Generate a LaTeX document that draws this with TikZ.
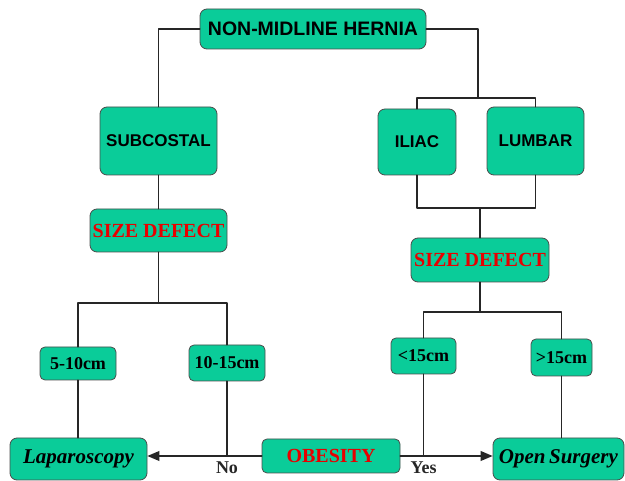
\documentclass[tikz,border=0pt]{standalone}
\usepackage{fontspec}
\setmainfont{Liberation Serif}
\newfontfamily\boxsans{Liberation Sans}
\usetikzlibrary{arrows}
\usetikzlibrary{positioning}
\definecolor{boxgreen}{RGB}{10,204,153}
\definecolor{boxred}{RGB}{232,0,0}

\begin{document}
\begin{tikzpicture}[line cap=round,line join=round,>=triangle 45,x=1pt,y=-1pt,
  box/.style={draw=black!70,line width=0.8pt,fill=boxgreen,rounded corners=7pt,inner sep=0pt,align=center},
  sanslbl/.style={font=\fontsize{17}{18}\selectfont\boxsans\bfseries},
  sizelbl/.style={font=\fontsize{20}{22}\selectfont\bfseries,text=boxred},
  cmlbl/.style={font=\fontsize{18}{20}\selectfont\bfseries},
  endlbl/.style={font=\fontsize{21}{23}\selectfont\bfseries\itshape},
  answer/.style={below=1pt,font=\fontsize{18}{19}\selectfont\bfseries},
  conn/.style={line width=1.8pt,black!85}]
\useasboundingbox (0,0) rectangle (625,481);
\node[box,minimum width=226,minimum height=40,font=\fontsize{19.5}{21}\selectfont\boxsans\bfseries] (hernia) at (313,29) {NON-MIDLINE HERNIA};
\node[box,sanslbl,minimum width=117,minimum height=68] (subcostal) at (158.5,141) {SUBCOSTAL};
\node[box,sanslbl,minimum width=78,minimum height=66] (iliac) at (417,142) {ILIAC};
\node[box,sanslbl,minimum width=97,minimum height=68] (lumbar) at (535.5,141) {LUMBAR};
\node[box,sizelbl,minimum width=137,minimum height=43] (sizeL) at (158.5,230.5) {SIZE DEFECT};
\node[box,sizelbl,minimum width=138,minimum height=44] (sizeR) at (480,260) {SIZE DEFECT};
\node[box,cmlbl,minimum width=76,minimum height=33,rounded corners=5pt] (small) at (78,363.5) {5-10cm};
\node[box,cmlbl,minimum width=76,minimum height=36,rounded corners=5pt] (mid) at (227,363) {10-15cm};
\node[box,cmlbl,minimum width=65,minimum height=36,rounded corners=5pt] (under) at (423.5,356) {<15cm};
\node[box,cmlbl,minimum width=61,minimum height=37,rounded corners=5pt] (over) at (561.5,357.5) {>15cm};
\node[box,endlbl,minimum width=137,minimum height=42] (lap) at (78.5,459) {Laparoscopy};
\node[box,sizelbl,minimum width=138,minimum height=34,rounded corners=5pt] (obesity) at (331,456) {OBESITY};
\node[box,endlbl,minimum width=131,minimum height=42] (open) at (558.5,459) {Open\,Surgery};
\coordinate (jR) at (478,98);
\coordinate (jRlow) at (480,208);
\coordinate (jL) at (158.5,303);
\coordinate (jS) at (480,312);
\draw[conn] (hernia.west) -| (subcostal.north);
\draw[conn] (hernia.east) -| (jR);
\draw[conn] (iliac.north) |- (jR) -| (lumbar.north);
\draw[conn] (iliac.south) |- (jRlow) -| (lumbar.south);
\draw[conn] (jRlow) -- (sizeR.north);
\draw[conn] (subcostal.south) -- (sizeL.north);
\draw[conn] (sizeL.south) -- (jL);
\draw[conn] (small.north) |- (jL) -| (mid.north);
\draw[conn] (sizeR.south) -- (jS);
\draw[conn] (under.north) |- (jS) -| (over.north);
\draw[conn] (small.south) -- (small.south |- lap.north);
\draw[conn] (over.south) -- (over.south |- open.north);
\draw[conn,->] (obesity.west) -- (obesity.west -| lap.east);
\draw[conn,->] (obesity.east) -- (obesity.east -| open.west);
\draw[conn] (mid.south) -- (mid.south |- obesity.west) node[answer] (no) {No};
\draw[conn] (under.south) -- (under.south |- obesity.east) node[answer] (yes) {Yes};
\end{tikzpicture}
\end{document}
